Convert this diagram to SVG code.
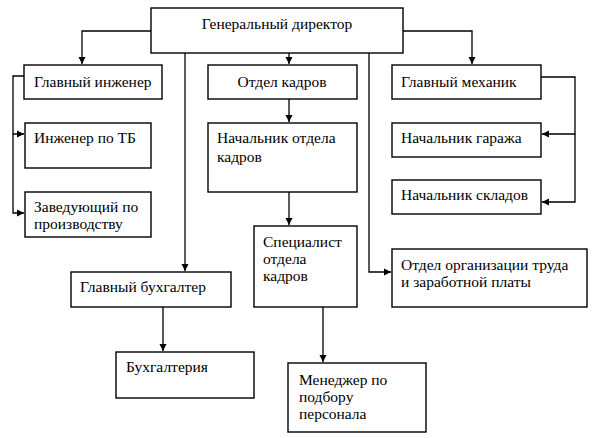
<svg xmlns="http://www.w3.org/2000/svg" width="596" height="438" viewBox="0 0 596 438">
<defs>
<marker id="ah" markerWidth="8" markerHeight="8" refX="7" refY="4" orient="auto" markerUnits="userSpaceOnUse">
<path d="M0,0.5 L7,4 L0,7.5 Z" fill="#000"/>
</marker>
</defs>
<rect x="0" y="0" width="596" height="438" fill="#fff"/>
<g id="connectors" fill="none" stroke="#000" stroke-width="1.3" marker-end="url(#ah)">
<path d="M151,31 H82 V64"/>
<path d="M289,53 V64"/>
<path d="M403,31 H472 V64"/>
<path d="M24,76 H13 V134 H24"/>
<path d="M13,134 V213 H24"/>
<path d="M185,53 V271"/>
<path d="M163,307 V351"/>
<path d="M289,99 V122"/>
<path d="M289,192 V225"/>
<path d="M323,307 V362"/>
<path d="M369,53 V272 H391"/>
<path d="M541,77 H575 V134 H542"/>
<path d="M575,134 V202 H542"/>
</g>
<g id="nodes" font-family="Liberation Serif" font-size="15.5">
<g id="gd"><rect x="151" y="8" width="252" height="45" fill="#fff" stroke="#000" stroke-width="1.4"/><text x="277" y="29" text-anchor="middle">Генеральный директор</text></g>
<g id="gi"><rect x="24" y="65" width="138" height="34" fill="#fff" stroke="#000" stroke-width="1.4"/><text x="34" y="87">Главный инженер</text></g>
<g id="itb"><rect x="25" y="123" width="126" height="45" fill="#fff" stroke="#000" stroke-width="1.4"/><text x="34" y="143">Инженер по ТБ</text></g>
<g id="zp"><rect x="25" y="192" width="126" height="45" fill="#fff" stroke="#000" stroke-width="1.4"/><text x="34" y="212">Заведующий по</text><text x="34" y="229">производству</text></g>
<g id="gb"><rect x="71" y="272" width="160" height="35" fill="#fff" stroke="#000" stroke-width="1.4"/><text x="80" y="292">Главный бухгалтер</text></g>
<g id="buh"><rect x="116" y="352" width="138" height="46" fill="#fff" stroke="#000" stroke-width="1.4"/><text x="126" y="372">Бухгалтерия</text></g>
<g id="ok"><rect x="208" y="65" width="149" height="34" fill="#fff" stroke="#000" stroke-width="1.4"/><text x="282" y="87" text-anchor="middle">Отдел кадров</text></g>
<g id="nok"><rect x="208" y="123" width="149" height="69" fill="#fff" stroke="#000" stroke-width="1.4"/><text x="217" y="143">Начальник отдела</text><text x="217" y="162">кадров</text></g>
<g id="sok"><rect x="254" y="226" width="103" height="81" fill="#fff" stroke="#000" stroke-width="1.4"/><text x="263" y="247">Специалист</text><text x="263" y="264">отдела</text><text x="263" y="281">кадров</text></g>
<g id="mpp"><rect x="288" y="363" width="138" height="69" fill="#fff" stroke="#000" stroke-width="1.4"/><text x="299" y="385">Менеджер по</text><text x="299" y="402">подбору</text><text x="299" y="419">персонала</text></g>
<g id="gm"><rect x="392" y="65" width="149" height="34" fill="#fff" stroke="#000" stroke-width="1.4"/><text x="401" y="87">Главный механик</text></g>
<g id="ng"><rect x="392" y="123" width="149" height="34" fill="#fff" stroke="#000" stroke-width="1.4"/><text x="401" y="143">Начальник гаража</text></g>
<g id="ns"><rect x="392" y="180" width="149" height="34" fill="#fff" stroke="#000" stroke-width="1.4"/><text x="401" y="200">Начальник складов</text></g>
<g id="oot"><rect x="392" y="249" width="195" height="58" fill="#fff" stroke="#000" stroke-width="1.4"/><text x="401" y="270">Отдел организации труда</text><text x="401" y="287">и заработной платы</text></g>
</g>
</svg>
